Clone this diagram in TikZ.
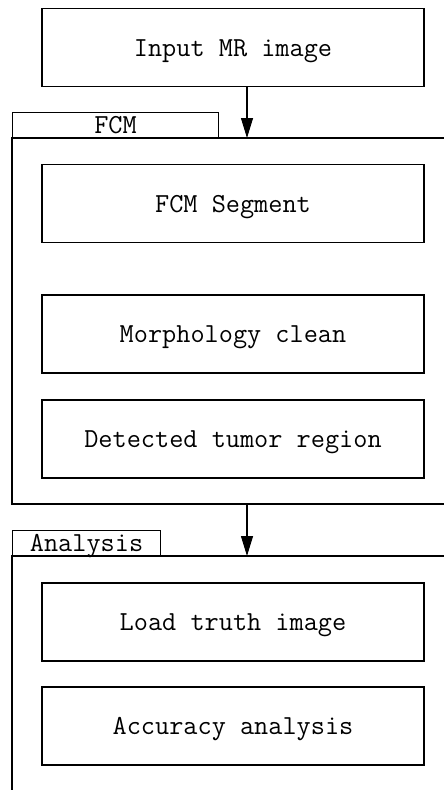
\documentclass[tikz,border=0pt]{standalone}
\usepackage{fontspec}
\setmonofont{Latin Modern Mono}
\usepackage{tikz}
\usetikzlibrary{arrows.meta}

\tikzset{
  stagebox/.style={draw, line width=1.1pt, minimum width=382pt, minimum height=78pt,
    inner sep=0pt, text height=17pt, text depth=0pt,
    font=\ttfamily\fontsize{27.5}{30}\selectfont},
  tabbox/.style={draw, line width=1.1pt, anchor=south west, minimum height=25pt,
    inner sep=0pt, text height=17pt, text depth=0pt,
    font=\ttfamily\fontsize{27.5}{30}\selectfont},
  flow/.style={line width=1.1pt, -{Triangle[length=20pt,width=12pt]}}
}

\begin{document}
\begin{tikzpicture}[x=1pt, y=-1pt, line cap=butt, line join=miter]
    \useasboundingbox (0,0) rectangle (444,790);

    % --- input ---
    \node[stagebox] (input) at (233,47.5) {Input MR image};

    % --- FCM group ---
    \coordinate (fcmtop) at (247,138);
    \coordinate (fcmbot) at (247,504);
    \draw[line width=1.1pt] (444,138)--(12,138)--(12,504)--(444,504);
    \node[tabbox, minimum width=206pt] (fcmtab) at (12,138) {FCM};
    \node[stagebox] (segment) at (233,203.5) {FCM Segment};
    \node[stagebox] (clean) at (233,334) {Morphology clean};
    \node[stagebox] (tumor) at (233,439) {Detected tumor region};

    % --- analysis group ---
    \coordinate (antop) at (247,556);
    \draw[line width=1.1pt] (444,556)--(12,556)--(12,790);
    \node[tabbox, minimum width=148pt] (antab) at (12,556) {Analysis};
    \node[stagebox] (truth) at (233,622) {Load truth image};
    \node[stagebox] (accuracy) at (233,726) {Accuracy analysis};

    % arrows
    \draw[flow] (input.south -| fcmtop)--(fcmtop);
    \draw[flow] (fcmbot)--(antop);
  \end{tikzpicture}
\end{document}
